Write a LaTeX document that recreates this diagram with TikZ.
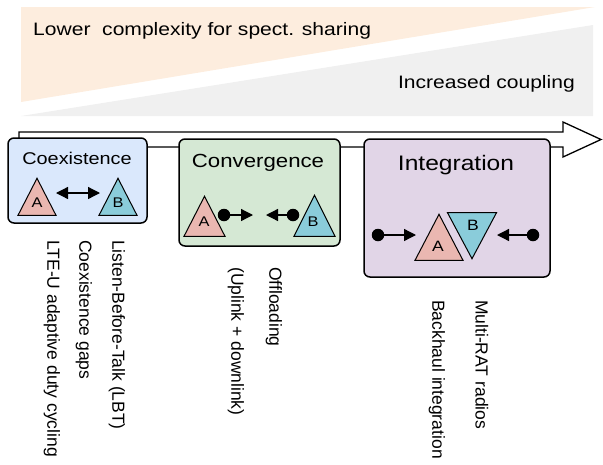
\documentclass[tikz,border=0pt]{standalone}
\usepackage{fontspec}
\setmainfont{Liberation Sans}[FakeStretch=1.17]
\newfontfamily\sidefont{Liberation Sans}
\usetikzlibrary{arrows.meta,shapes.geometric}
\definecolor{wedgeorange}{RGB}{253,237,222}
\definecolor{wedgegray}{RGB}{240,240,240}
\definecolor{coexblue}{RGB}{218,232,252}
\definecolor{convgreen}{RGB}{213,232,212}
\definecolor{integpurple}{RGB}{225,213,231}
\definecolor{ratA}{RGB}{234,183,177}
\definecolor{ratB}{RGB}{138,204,218}
\tikzset{>={Triangle[length=12pt,width=12pt]}}
\tikzset{
  phase/.style={draw, line width=1.5pt, rounded corners=6pt, inner sep=0},
  tri/.style={draw, line width=1pt, isosceles triangle, isosceles triangle stretches,
    shape border rotate=90, inner sep=0, anchor=apex},
  letter/.style={anchor=base, inner sep=0, font=\fontsize{14}{16}\selectfont},
  dot/.style={circle, fill=black, minimum size=12.5pt, inner sep=0},
  conn/.style={line width=1.3pt},
  sidelabel/.style={rotate=-90, anchor=west, inner sep=0, font=\sidefont\fontsize{17.5}{20}\selectfont},
}

\begin{document}
\begin{tikzpicture}[x=1pt,y=-1pt]
\useasboundingbox (0,0) rectangle (603,464);

% trade-off wedges
\fill[wedgeorange] (21,7) -- (595,7) -- (21,102) -- cycle;
\fill[wedgegray] (21,116) -- (593,116) -- (593,25) -- cycle;
\node[anchor=base west, inner sep=0, font=\fontsize{18}{20}\selectfont] (lower) at (33,35) {Lower\ \ complexity for spect. sharing};
\node[anchor=base east, inner sep=0, font=\fontsize{18}{20}\selectfont] (coupling) at (575,88) {Increased coupling};

% time line
\draw[line width=1.3pt, fill=white] (19,132) -- (563,132) -- (563,122) -- (601,139.5) -- (563,157) -- (563,147) -- (19,147) -- cycle;

\node[phase, fill=coexblue, minimum width=139pt, minimum height=85pt] (coex) at (77.5,180.5) {};
\node[phase, fill=convgreen, minimum width=161pt, minimum height=107pt] (conv) at (259.5,192.5) {};
\node[phase, fill=integpurple, minimum width=186pt, minimum height=138pt] (integ) at (457,208) {};

\node[anchor=base, inner sep=0, font=\fontsize{17}{19}\selectfont] (coextitle) at (77,164) {Coexistence};
\node[anchor=base, inner sep=0, font=\fontsize{19}{21}\selectfont] (convtitle) at (258,167) {Convergence};
\node[anchor=base, inner sep=0, font=\fontsize{21}{23}\selectfont] (integtitle) at (456,170) {Integration};

% coexistence
\node[tri, fill=ratA, minimum width=38pt, minimum height=37pt] (coexA) at (37,177) {};
\node[tri, fill=ratB, minimum width=38pt, minimum height=37pt] (coexB) at (118,177) {};
\node[letter] at (37,207) {A};
\node[letter] at (118,207) {B};
\coordinate (coexl) at (56,193);
\coordinate (coexr) at (100,193);
\draw[conn,<->] (coexl) -- (coexr);

% convergence
\node[tri, fill=ratA, minimum width=41pt, minimum height=40pt] (convA) at (204.5,195) {};
\node[tri, fill=ratB, minimum width=41pt, minimum height=41pt] (convB) at (314.5,194) {};
\node[letter] at (204,226) {A};
\node[letter] at (313,226) {B};
\node[dot] (convdA) at (224,215) {};
\node[dot] (convdB) at (293,215) {};
\coordinate (convtA) at (253,215);
\coordinate (convtB) at (266,215);
\draw[conn,->] (convdA) -- (convtA);
\draw[conn,->] (convdB) -- (convtB);

% integration
\node[tri, fill=ratA, minimum width=48pt, minimum height=46pt] (integA) at (439,213) {};
\node[tri, fill=ratB, shape border rotate=270, minimum width=49pt, minimum height=46pt] (integB) at (472,260) {};
\node[letter, font=\fontsize{15}{17}\selectfont] at (438,251) {A};
\node[letter, font=\fontsize{15}{17}\selectfont] at (473,230) {B};
\node[dot] (integdL) at (378,235) {};
\node[dot] (integdR) at (533,235) {};
\coordinate (integtL) at (416,235);
\coordinate (integtR) at (497,235);
\draw[conn,->] (integdL) -- (integtL);
\draw[conn,->] (integdR) -- (integtR);

% mechanisms
\node[sidelabel] (lbt) at (117,240) {Listen-Before-Talk (LBT)};
\node[sidelabel] (gaps) at (84,240) {Coexistence gaps};
\node[sidelabel] (lteu) at (52,240) {LTE-U adaptive duty cycling};
\node[sidelabel] (offload) at (274,267) {Offloading};
\node[sidelabel] (updown) at (236,267) {(Uplink + downlink)};
\node[sidelabel] (multirat) at (482,300) {Multi-RAT radios};
\node[sidelabel] (backhaul) at (437,300) {Backhaul integration};
\end{tikzpicture}
\end{document}
